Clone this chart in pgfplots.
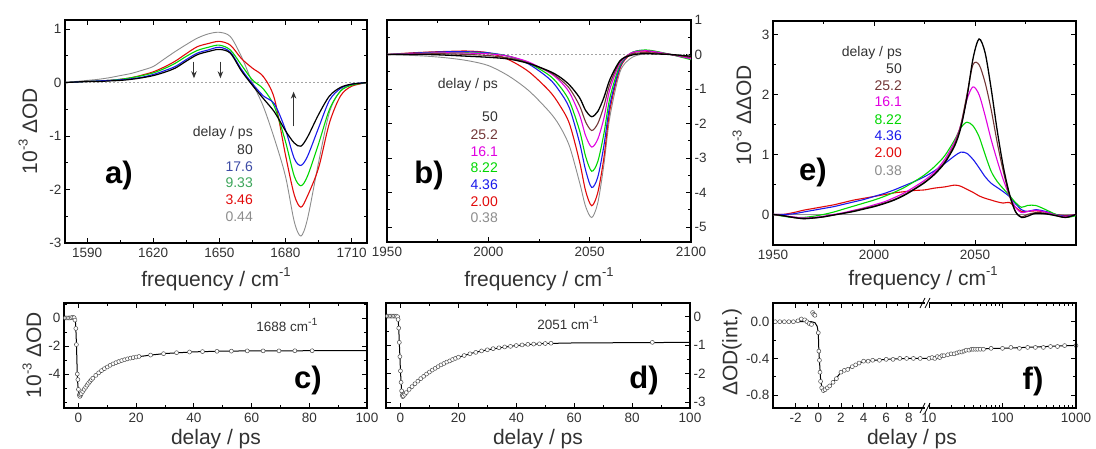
\documentclass[border=0pt]{standalone}
\usepackage{fontspec}
\setmainfont{Liberation Sans}
\usepackage{pgfplots}
\pgfplotsset{compat=1.18}
\usepackage{pgfplotstable}
\usetikzlibrary{arrows.meta}

\definecolor{cblue}{RGB}{25,25,235}
\definecolor{cgreen}{RGB}{0,215,0}
\definecolor{cred}{RGB}{225,10,10}
\definecolor{cgray}{RGB}{140,140,140}
\definecolor{cbrown}{RGB}{115,55,55}
\definecolor{cmag}{RGB}{225,0,225}
\definecolor{txt}{RGB}{50,50,50}

\newcommand\fTick{\fontsize{13.5}{15}\selectfont}
\newcommand\fLab{\fontsize{21}{24}\selectfont}
\newcommand\fLeg{\fontsize{14}{16}\selectfont}
\newcommand\fSm{\fontsize{13.5}{15}\selectfont}
\newcommand\fPan{\fontsize{31}{33}\selectfont\bfseries}
\newcommand\sups[1]{\raisebox{0.45em}{\fontsize{13}{13}\selectfont #1}}

\pgfplotsset{
  panel/.style={
    scale only axis, anchor=south west, clip mode=individual,
    axis line style={line width=1.4pt, black},
    tick align=inside, major tick length=5pt, minor tick length=3pt,
    tick style={black, line width=0.8pt},
    tick label style={font=\fTick, text=txt},
    xticklabel style={yshift=-2pt},
    /pgf/number format/assume math mode=true,
    /pgf/number format/1000 sep={},
    scaled ticks=false,
  },
  spec/.style={no markers, smooth, line width=1.1pt},
  circ/.style={only marks, mark=*, mark size=2pt,
    mark options={fill=white, draw=black!70, line width=0.5pt}},
  fit/.style={no markers, black, line width=1pt},
}

% panel a: x, 80 ps (k), 17.6 (b), 9.33 (g), 3.46 (r), 0.44 (s)
\pgfplotstableread{
x    k     b     g     r     s
1580 0.00  0.00  0.00  0.00  0.00
1585 0.01  0.01  0.01  0.01  0.02
1590 0.02  0.02  0.02  0.02  0.04
1595 0.02  0.03  0.03  0.03  0.06
1600 0.03  0.04  0.04  0.04  0.09
1605 0.04  0.05  0.06  0.06  0.13
1610 0.06  0.07  0.09  0.09  0.17
1615 0.09  0.10  0.13  0.14  0.23
1620 0.13  0.15  0.18  0.20  0.30
1625 0.19  0.22  0.26  0.29  0.44
1630 0.27  0.30  0.36  0.40  0.58
1635 0.40  0.43  0.49  0.54  0.71
1640 0.52  0.55  0.60  0.67  0.83
1645 0.58  0.61  0.66  0.73  0.91
1650 0.62  0.66  0.70  0.77  0.94
1655 0.55  0.57  0.61  0.70  0.86
1660 0.22  0.25  0.33  0.45  0.49
1665 -0.05 -0.02 0.05  0.27  0.00
1670 -0.30 -0.25 -0.12 0.11  -0.45
1675 -0.55 -0.40 -0.45 -0.30 -1.05
1680 -0.90 -0.88 -1.10 -1.35 -1.75
1684 -1.13 -1.42 -1.75 -2.10 -2.60
1687 -1.19 -1.55 -1.93 -2.33 -2.87
1690 -1.02 -1.38 -1.75 -2.12 -2.55
1695 -0.60 -0.85 -1.15 -1.60 -1.50
1700 -0.25 -0.33 -0.50 -0.75 -0.55
1705 -0.09 -0.11 -0.16 -0.25 -0.15
1710 -0.03 -0.03 -0.05 -0.07 -0.04
1717 0.00  0.00  0.00  0.00  0.00
}\dataA

% panel b: 0.38 (s), 2.00 (r), 4.36 (b), 8.22 (g), 16.1 (m), 25.2 (n), 50 (k)
\pgfplotstableread{
x    s     r     b     g     m     n     k
1950 0.00  0.00  0.00  0.00  0.00  0.00  0.00
1960 -0.02 0.04  0.03  0.02  0.02  0.01  0.00
1970 -0.05 0.07  0.06  0.04  0.04  0.02  0.00
1980 -0.10 0.09  0.08  0.05  0.05  0.02  -0.02
1990 -0.18 0.10  0.08  0.05  0.04  0.00  -0.05
2000 -0.32 0.05  0.05  0.03  0.02  -0.03 -0.08
2010 -0.62 -0.15 -0.05 -0.05 -0.05 -0.10 -0.13
2020 -1.05 -0.50 -0.28 -0.25 -0.22 -0.25 -0.26
2030 -1.65 -1.05 -0.70 -0.60 -0.52 -0.50 -0.48
2035 -2.05 -1.45 -1.05 -0.90 -0.75 -0.70 -0.64
2040 -2.65 -2.00 -1.55 -1.35 -1.10 -0.98 -0.88
2045 -3.70 -3.10 -2.55 -2.20 -1.75 -1.48 -1.25
2048 -4.40 -3.95 -3.35 -2.95 -2.35 -1.95 -1.62
2051 -4.72 -4.38 -3.85 -3.38 -2.68 -2.20 -1.80
2054 -4.30 -4.00 -3.55 -3.10 -2.45 -2.00 -1.65
2057 -3.20 -3.00 -2.65 -2.30 -1.85 -1.50 -1.25
2060 -1.80 -1.60 -1.45 -1.25 -1.00 -0.85 -0.72
2065 -0.50 -0.40 -0.35 -0.30 -0.25 -0.20 -0.18
2070 -0.12 0.00  0.02  0.03  0.03  0.00  -0.03
2075 0.00  0.10  0.12  0.12  0.10  0.05  0.02
2080 0.03  0.08  0.10  0.12  0.10  0.05  0.02
2090 0.00  0.00  0.00  0.00  0.00  0.00  0.00
2100 -0.05 -0.10 -0.12 -0.15 -0.12 -0.08 -0.05
}\dataB

% panel e: 2.00 (r), 4.36 (b), 8.22 (g), 16.1 (m), 25.2 (n), 50 (k)
\pgfplotstableread{
x    r     b     g     m     n     k
1950 0.00  0.00  0.00  0.00  0.00  0.00
1955 0.00  0.00  -0.03 -0.02 -0.02 -0.02
1960 0.03  0.01  -0.05 -0.04 -0.05 -0.05
1965 0.07  0.04  -0.05 -0.06 -0.07 -0.07
1970 0.10  0.07  -0.03 -0.05 -0.06 -0.06
1975 0.13  0.10  0.00  -0.03 -0.04 -0.04
1980 0.16  0.13  0.04  0.00  -0.01 -0.01
1985 0.20  0.17  0.09  0.03  0.02  0.02
1990 0.24  0.21  0.14  0.07  0.06  0.05
1995 0.27  0.25  0.19  0.11  0.10  0.09
2000 0.30  0.30  0.24  0.16  0.14  0.13
2005 0.33  0.35  0.30  0.21  0.19  0.18
2010 0.36  0.41  0.37  0.28  0.25  0.24
2015 0.38  0.48  0.45  0.36  0.33  0.32
2020 0.40  0.55  0.55  0.46  0.43  0.42
2025 0.41  0.63  0.66  0.57  0.54  0.53
2030 0.44  0.73  0.80  0.71  0.68  0.67
2035 0.46  0.85  0.98  0.92  0.88  0.86
2040 0.49  0.98  1.25  1.22  1.18  1.15
2043 0.47  1.04  1.45  1.50  1.50  1.45
2046 0.42  1.02  1.54  1.92  2.00  1.95
2049 0.37  0.92  1.48  2.13  2.50  2.60
2052 0.31  0.78  1.30  2.00  2.50  2.93
2055 0.27  0.63  1.00  1.65  2.20  2.70
2058 0.24  0.52  0.72  1.25  1.75  2.10
2061 0.21  0.45  0.55  0.90  1.20  1.40
2064 0.19  0.38  0.43  0.58  0.72  0.80
2067 0.20  0.30  0.32  0.32  0.32  0.35
2070 0.12  0.18  0.20  0.12  0.05  0.05
2073 0.05  0.08  0.12  0.03  -0.04 -0.05
2076 0.05  0.05  0.15  0.05  0.00  -0.03
2080 0.06  0.08  0.15  0.07  0.03  0.02
2085 0.04  0.05  0.08  0.04  0.02  0.01
2090 0.00  0.00  0.00  -0.01 -0.02 -0.02
2095 -0.02 -0.03 -0.05 -0.04 -0.05 -0.05
2100 0.00  0.00  -0.02 0.00  0.00  0.00
}\dataE

\begin{document}
\begin{tikzpicture}
\path[use as bounding box] (0pt,0pt) rectangle (1096pt,449pt);

% ---------- a) ----------
\begin{axis}[panel, at={(65pt,206pt)}, width=302pt, height=223pt,
  xmin=1580, xmax=1717, ymin=-3, ymax=1.17,
  xtick={1590,1620,1650,1680,1710}, ytick={-3,-2,-1,0,1},
  minor x tick num=1, minor y tick num=1]
\addplot[cgray!80, dash pattern=on 2pt off 2pt, line width=0.7pt] coordinates {(1580,0) (1717,0)};
\addplot[spec, cgray, line width=0.9pt] table[x=x,y=s]{\dataA};
\addplot[spec, cred] table[x=x,y=r]{\dataA};
\addplot[spec, cgreen] table[x=x,y=g]{\dataA};
\addplot[spec, cblue] table[x=x,y=b]{\dataA};
\addplot[spec, black, line width=1.2pt] table[x=x,y=k]{\dataA};
\draw[-{Stealth[length=7pt,width=5.5pt]}, line width=1pt, black!80] (axis cs:1638.5,0.39) -- (axis cs:1638.5,0.08);
\draw[-{Stealth[length=7pt,width=5.5pt]}, line width=1pt, black!80] (axis cs:1650.5,0.39) -- (axis cs:1650.5,0.08);
\draw[-{Stealth[length=7pt,width=5.5pt]}, line width=1pt, black!80] (axis cs:1683.7,-0.82) -- (axis cs:1683.7,-0.17);
\end{axis}

% ---------- b) ----------
\begin{axis}[panel, at={(387pt,207pt)}, width=304pt, height=222pt,
  xmin=1950, xmax=2100, ymin=-5.43, ymax=1,
  xtick={1950,2000,2050,2100}, ytick={-5,-4,-3,-2,-1,0,1},
  minor x tick num=1, minor y tick num=1, yticklabel pos=right]
\addplot[cgray!80, dash pattern=on 2pt off 2pt, line width=0.7pt] coordinates {(1950,0) (2100,0)};
\addplot[spec, cgray, line width=0.9pt] table[x=x,y=s]{\dataB};
\addplot[spec, cred] table[x=x,y=r]{\dataB};
\addplot[spec, cblue] table[x=x,y=b]{\dataB};
\addplot[spec, cgreen] table[x=x,y=g]{\dataB};
\addplot[spec, cmag] table[x=x,y=m]{\dataB};
\addplot[spec, cbrown] table[x=x,y=n]{\dataB};
\addplot[spec, black, line width=1.3pt] table[x=x,y=k]{\dataB};
\end{axis}

% ---------- e) ----------
\begin{axis}[panel, at={(773pt,204pt)}, width=303pt, height=224pt,
  xmin=1950, xmax=2100, ymin=-0.51, ymax=3.23,
  xtick={1950,2000,2050,2100}, xticklabels={1950,2000,2050,},
  ytick={0,1,2,3}, minor x tick num=1, minor y tick num=1]
\addplot[cgray, line width=0.7pt] coordinates {(1950,0) (2100,0)};
\addplot[spec, cred] table[x=x,y=r]{\dataE};
\addplot[spec, cblue] table[x=x,y=b]{\dataE};
\addplot[spec, cgreen] table[x=x,y=g]{\dataE};
\addplot[spec, cmag] table[x=x,y=m]{\dataE};
\addplot[spec, cbrown] table[x=x,y=n]{\dataE};
\addplot[spec, black, line width=1.3pt] table[x=x,y=k]{\dataE};
\end{axis}

% ---------- c) ----------
\begin{axis}[panel, at={(64pt,41pt)}, width=303pt, height=105pt,
  xmin=-5, xmax=100, ymin=-6.43, ymax=1.07,
  xtick={0,20,40,60,80,100}, minor x tick num=1,
  ytick={-4,-2,0}, minor ytick={-6,-5,-3,-1,1}]
\addplot[fit] coordinates {(-5,0) (-1.3,0) (-1,-0.35) (-0.8,-1.2) (-0.6,-2.5) (-0.4,-4.0) (-0.2,-4.8) (0,-5.2) (0.3,-5.5) (0.5,-5.6) (1,-5.45) (2,-5.1) (3,-4.8) (4,-4.53) (5,-4.3) (6,-4.1) (8,-3.76) (10,-3.5) (12,-3.28) (15,-3.04) (20,-2.79) (25,-2.65) (30,-2.54) (40,-2.42) (50,-2.37) (60,-2.35) (80,-2.34) (100,-2.33)};
\addplot[circ] coordinates {(-4.5,0.0) (-4,0.0) (-3.5,0.0) (-3,0.0) (-2.5,0.02) (-2,0.05) (-1.5,0.02) (-1.2,-0.15) (-0.9,-0.75) (-0.7,-1.9) (-0.4,-4.0) (-0.2,-4.4) (0,-5.1) (0.3,-5.5) (0.5,-5.6) (0.8,-5.5) (1,-5.4) (1.5,-5.25) (2,-5.1) (2.5,-4.95) (3,-4.8) (3.5,-4.66) (4,-4.53) (4.5,-4.41) (5,-4.3) (6,-4.1) (7,-3.92) (8,-3.76) (9,-3.62) (10,-3.5) (11,-3.38) (12,-3.28) (13,-3.19) (14,-3.11) (15,-3.04) (16,-2.98) (17,-2.92) (18,-2.87) (19,-2.83) (20,-2.79) (21,-2.75) (25,-2.65) (29.5,-2.55) (34,-2.48) (38.5,-2.43) (43,-2.4) (48,-2.38) (53,-2.37) (58.5,-2.35) (64,-2.35) (69.5,-2.35) (75,-2.34) (81,-2.34)};
\end{axis}

% ---------- d) ----------
\begin{axis}[panel, at={(386pt,41pt)}, width=304pt, height=105pt,
  xmin=-5, xmax=100, ymin=-3.2, ymax=0.48,
  xtick={0,20,40,60,80,100}, minor x tick num=1,
  ytick={-3,-2,-1,0}, minor y tick num=1, yticklabel pos=right]
\addplot[fit] coordinates {(-5,0) (-1,0) (-0.8,-0.1) (-0.6,-0.4) (-0.4,-0.9) (-0.2,-1.4) (0,-1.9) (0.2,-2.3) (0.4,-2.6) (0.6,-2.75) (0.8,-2.8) (1,-2.78) (2,-2.66) (3,-2.55) (4,-2.45) (5,-2.35) (7,-2.17) (10,-1.94) (12,-1.81) (15,-1.64) (20,-1.42) (25,-1.27) (30,-1.16) (35,-1.08) (40,-1.01) (45,-0.97) (50,-0.94) (60,-0.92) (80,-0.91) (100,-0.9)};
\addplot[circ] coordinates {(-4.5,0.02) (-4,0.02) (-3.5,0.02) (-3,0.02) (-2.5,0.02) (-2,0.02) (-1.5,0.02) (-1,0.0) (-0.8,-0.1) (-0.6,-0.4) (-0.4,-0.9) (-0.2,-1.4) (0,-1.9) (0.2,-2.3) (0.4,-2.6) (0.6,-2.75) (0.8,-2.8) (1,-2.78) (1.5,-2.72) (2,-2.66) (3,-2.55) (4,-2.45) (5,-2.35) (6,-2.26) (7,-2.17) (8,-2.09) (9,-2.01) (10,-1.94) (11,-1.87) (12,-1.81) (13,-1.75) (14,-1.69) (15,-1.64) (16,-1.59) (17,-1.55) (18,-1.5) (19,-1.46) (20,-1.42) (22,-1.36) (24,-1.3) (26,-1.25) (28,-1.2) (30,-1.16) (32,-1.12) (34,-1.09) (36,-1.06) (38,-1.04) (40,-1.01) (42,-0.99) (44,-0.97) (46,-0.96) (48,-0.95) (50,-0.94) (52,-0.93) (87,-0.9)};
\end{axis}

% ---------- f) linear part ----------
\begin{axis}[panel, at={(773pt,41pt)}, width=154pt, height=105pt,
  xmin=-4, xmax=9.6, ymin=-0.94, ymax=0.204,
  axis line style={draw=none}, ytick pos=left,
  xtick={-2,0,2,4,6,8}, minor x tick num=1,
  ytick={-0.8,-0.4,0}, minor y tick num=1,
  yticklabel style={/pgf/number format/.cd, fixed, fixed zerofill, precision=1}]
\addplot[fit] coordinates {(-4,0) (-0.6,0) (-0.3,-0.01) (-0.1,-0.05) (0,-0.12) (0.05,-0.32) (0.1,-0.42) (0.2,-0.62) (0.3,-0.71) (0.45,-0.75) (0.6,-0.74) (1,-0.7) (1.5,-0.63) (2,-0.55) (2.5,-0.52) (3,-0.49) (3.5,-0.46) (4,-0.43) (5,-0.42) (6,-0.41) (8,-0.4) (9.6,-0.4)};
\addplot[circ] coordinates {(-3.8,0.0) (-3.4,0.0) (-3.0,0.0) (-2.6,0.0) (-2.2,0.0) (-1.8,0.01) (-1.5,0.03) (-1.2,0.02) (-1.0,0.0) (-0.8,-0.02) (-0.6,-0.03) (-0.5,0.1) (-0.4,0.08) (-0.3,0.07) (0,-0.12) (0.05,-0.32) (0.1,-0.42) (0.15,-0.55) (0.2,-0.65) (0.3,-0.72) (0.45,-0.75) (0.6,-0.74) (0.8,-0.72) (1.0,-0.7) (1.3,-0.66) (1.6,-0.62) (2.0,-0.55) (2.3,-0.53) (2.6,-0.52) (3.0,-0.49) (3.3,-0.47) (3.6,-0.45) (4,-0.43) (4.4,-0.43) (4.8,-0.42) (5.4,-0.42) (6,-0.41) (6.6,-0.41) (7.2,-0.4) (7.8,-0.4) (8.4,-0.4) (9.0,-0.4)};
\draw[line width=1.4pt] (rel axis cs:0.985,0) -- (rel axis cs:0,0) -- (rel axis cs:0,1) -- (rel axis cs:0.985,1);
\end{axis}

% ---------- f) log part ----------
\begin{axis}[panel, at={(927pt,41pt)}, width=149pt, height=105pt,
  xmode=log, xmin=9.4, xmax=1000, ymin=-0.94, ymax=0.204,
  axis line style={draw=none}, ytick pos=right, yticklabels={},
  ytick={-0.8,-0.4,0}, minor y tick num=1,
  xtick={10,100,1000}, log ticks with fixed point]
\addplot[fit] coordinates {(9.4,-0.4) (12,-0.39) (15,-0.37) (20,-0.35) (25,-0.335) (30,-0.32) (40,-0.305) (50,-0.3) (70,-0.29) (100,-0.29) (200,-0.28) (400,-0.27) (700,-0.262) (1000,-0.258)};
\addplot[circ] coordinates {(10,-0.4) (11,-0.39) (12,-0.4) (13,-0.38) (14,-0.39) (15,-0.37) (16,-0.37) (18,-0.36) (20,-0.35) (22,-0.35) (24,-0.34) (26,-0.33) (28,-0.33) (30,-0.32) (32,-0.31) (35,-0.31) (38,-0.3) (40,-0.3) (43,-0.3) (46,-0.3) (50,-0.3) (55,-0.3) (70,-0.29) (100,-0.29) (130,-0.28) (170,-0.29) (220,-0.28) (280,-0.28) (360,-0.28) (450,-0.27) (560,-0.27) (700,-0.26) (1000,-0.26)};
\draw[line width=1.4pt] (rel axis cs:0.015,0) -- (rel axis cs:1,0) -- (rel axis cs:1,1) -- (rel axis cs:0.015,1);
\end{axis}
\draw[line width=0.8pt] (920pt,141pt) -- (925pt,151pt) (925pt,141pt) -- (930pt,151pt);
\draw[line width=0.8pt] (920pt,36pt) -- (925pt,46pt) (925pt,36pt) -- (930pt,46pt);

% ---------- axis labels ----------
\begin{scope}[every node/.style={text=txt, font=\fLab, inner sep=0pt}]
\node at (216pt,170pt) {frequency / cm\sups{-1}};
\node at (539pt,170pt) {frequency / cm\sups{-1}};
\node at (923pt,171pt) {frequency / cm\sups{-1}};
\node[rotate=90] at (28pt,318pt) {10\sups{-3} ΔOD};
\node[rotate=90] at (742pt,334pt) {10\sups{-3} ΔΔOD};
\node[rotate=90] at (32pt,94pt) {10\sups{-3} ΔOD};
\node[rotate=90] at (732pt,97pt) {ΔOD(int.)};
\node at (216pt,10pt) {delay / ps};
\node at (538pt,10pt) {delay / ps};
\node at (912pt,10pt) {delay / ps};
\end{scope}

% ---------- panel letters ----------
\begin{scope}[every node/.style={font=\fPan, inner sep=0pt}]
\node at (119pt,274pt) {a)};
\node at (429pt,274pt) {b)};
\node at (813pt,277pt) {e)};
\node at (308pt,69pt) {c)};
\node at (644pt,69pt) {d)};
\node at (1033pt,68pt) {f)};
\end{scope}

% ---------- delay legends ----------
\begin{scope}[every node/.style={font=\fLeg, anchor=east, inner sep=0pt}]
\node[text=txt] at (253pt,316pt) {delay / ps};
\node[text=txt] at (253pt,299pt) {80};
\node[text={rgb,255:red,60;green,75;blue,165}] at (253pt,282pt) {17.6};
\node[text={rgb,255:red,60;green,165;blue,90}] at (253pt,266pt) {9.33};
\node[text=cred] at (253pt,249pt) {3.46};
\node[text=cgray] at (253pt,232pt) {0.44};

\node[text=txt] at (498pt,364pt) {delay / ps};
\node[text=txt] at (498pt,332pt) {50};
\node[text=cbrown] at (498pt,314pt) {25.2};
\node[text=cmag] at (498pt,297pt) {16.1};
\node[text=cgreen] at (498pt,281pt) {8.22};
\node[text=cblue] at (498pt,264pt) {4.36};
\node[text=cred] at (498pt,247pt) {2.00};
\node[text=cgray] at (498pt,231pt) {0.38};

\node[text=txt] at (902pt,396pt) {delay / ps};
\node[text=txt] at (902pt,380pt) {50};
\node[text=cbrown] at (902pt,363pt) {25.2};
\node[text=cmag] at (902pt,347pt) {16.1};
\node[text=cgreen] at (902pt,329pt) {8.22};
\node[text=cblue] at (902pt,313pt) {4.36};
\node[text=cred] at (902pt,296pt) {2.00};
\node[text=cgray] at (902pt,278pt) {0.38};
\end{scope}

\node[font=\fSm, text=txt] at (287pt,124pt) {1688 cm\raisebox{0.45em}{\fontsize{10.5}{10.5}\selectfont -1}};
\node[font=\fSm, text=txt] at (568pt,126pt) {2051 cm\raisebox{0.45em}{\fontsize{10.5}{10.5}\selectfont -1}};
\end{tikzpicture}
\end{document}
